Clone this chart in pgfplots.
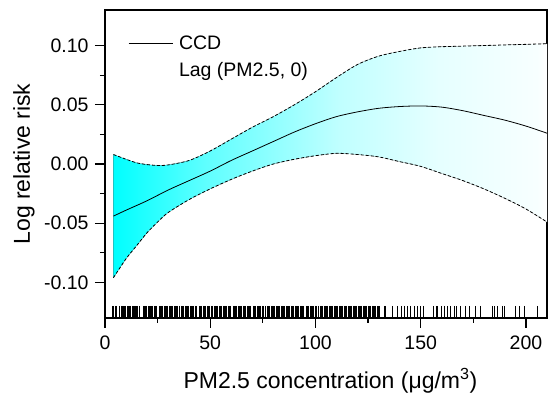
\documentclass[border=0pt]{standalone}
\usepackage{pgfplots}
\pgfplotsset{compat=1.18}
\usepgfplotslibrary{fillbetween}
\usepackage{fontspec}
\setmainfont{Liberation Sans}
\colorlet{cA}{cyan}
\colorlet{cB}{cyan!85!white}
\colorlet{cC}{cyan!63!white}
\colorlet{cD}{cyan!44!white}
\colorlet{cE}{cyan!25!white}
\colorlet{cF}{cyan!10!white}
\colorlet{cG}{cyan!3!white}
\pgfdeclarehorizontalshading{bandshade}{100bp}{color(0bp)=(cA); color(25bp)=(cA); color(29.25bp)=(cB); color(35.6bp)=(cC); color(43.3bp)=(cD); color(50.9bp)=(cE); color(62.4bp)=(cF); color(73.9bp)=(cG); color(75bp)=(white); color(100bp)=(white)}
\begin{document}
\begin{tikzpicture}
\begin{axis}[
  scale only axis, width=442pt, height=308pt,
  xmin=0, xmax=210, ymin=-0.13, ymax=0.13,
  xtick={0,50,100,150,200},
  ytick={-0.10,-0.05,0,0.05,0.10},
  yticklabels={-0.10,-0.05,0.00,0.05,0.10},
  minor x tick num=1, minor y tick num=1,
  tick pos=left, tick align=outside,
  major tick length=10pt, minor tick length=5pt,
  every tick/.style={black, line width=1.2pt},
  axis line style={line width=1.2pt},
  /pgf/number format/assume math mode=true,
  tick label style={font=\fontsize{19.5}{23}\selectfont},
  xticklabel style={yshift=-4pt},
  yticklabel style={xshift=-3pt},
  label style={font=\fontsize{23}{27}\selectfont},
  xlabel={PM2.5 concentration (μg/m\textsuperscript{3})},
  ylabel={Log relative risk},
  xlabel style={at={(axis description cs:0.51,-0.162)}, anchor=north, inner sep=0pt},
  ylabel style={at={(axis description cs:-0.208,0.5)}, anchor=north, inner sep=0pt},
  legend style={draw=none, fill=none, at={(axis description cs:0,1)}, anchor=north west, xshift=20pt, yshift=-22pt, font=\fontsize{19.5}{23}\selectfont, row sep=7pt, nodes={inner sep=2pt, anchor=west}, /tikz/every odd column/.append style={column sep=4pt}},
  legend cell align=left,
  legend image code/.code={\draw[#1] (0pt,0pt) -- (44pt,0pt);},
]
\addplot[name path=upper, black, line width=0.8pt, dash pattern=on 3pt off 2pt, smooth, forget plot] coordinates {
(4,0.008) (10,0.004) (15,0.001) (20,-0.0005) (25,-0.0012) (30,-0.0008) (40,0.003) (50,0.011) (60,0.021) (70,0.031) (80,0.040) (90,0.050) (100,0.061) (110,0.073) (120,0.084) (130,0.091) (140,0.095) (150,0.098) (160,0.099) (170,0.0995) (180,0.100) (190,0.1005) (200,0.101) (210,0.1015)};
\addplot[name path=lower, black, line width=0.8pt, dash pattern=on 3pt off 2pt, smooth, forget plot] coordinates {
(4,-0.096) (10,-0.080) (15,-0.069) (20,-0.058) (25,-0.049) (30,-0.041) (40,-0.030) (50,-0.021) (60,-0.013) (70,-0.006) (80,0.000) (90,0.004) (100,0.007) (110,0.009) (120,0.008) (130,0.006) (140,0.002) (150,-0.002) (160,-0.008) (170,-0.014) (180,-0.021) (190,-0.029) (200,-0.038) (210,-0.049)};
\addplot[shade, shading=bandshade, draw=none, forget plot] fill between[of=upper and lower];
\addplot[black, line width=0.8pt, smooth] coordinates {
(4,-0.044) (10,-0.039) (20,-0.031) (30,-0.022) (40,-0.014) (50,-0.006) (60,0.003) (70,0.011) (80,0.019) (90,0.027) (100,0.034) (110,0.040) (120,0.044) (130,0.047) (140,0.0485) (150,0.049) (160,0.048) (170,0.045) (180,0.041) (190,0.037) (200,0.032) (210,0.026)};
\addlegendentry{CCD}
\addlegendimage{empty legend}
\addlegendentry{Lag (PM2.5, 0)}
\addplot[only marks, mark=|, mark size=5.5pt, mark options={line width=0.7pt, black}, forget plot] table[x index=0, y expr=-0.1245, header=false] {
3.6
4.1
4.9
5.4
7.0
7.6
8.2
8.7
9.3
9.9
10.5
11.1
11.6
12.2
12.8
13.4
14.0
14.5
15.1
15.6
16.2
18.0
18.6
19.2
19.8
20.4
21.0
21.5
22.1
22.7
23.3
23.9
24.4
25.6
26.2
26.8
27.4
28.0
28.6
29.2
29.8
30.4
31.0
31.6
32.2
32.8
33.4
34.0
34.6
35.1
36.2
36.8
37.4
38.0
38.6
39.2
39.8
40.4
41.0
41.6
42.2
42.8
43.4
44.8
45.4
46.0
46.6
47.2
47.8
48.4
49.0
49.6
50.6
51.2
51.8
52.4
53.0
53.6
54.2
54.8
55.4
56.0
56.6
57.2
57.8
58.4
59.0
59.6
60.8
61.4
62.0
62.6
63.2
63.8
64.4
65.0
65.6
66.2
66.8
67.4
68.0
68.6
69.2
70.4
71.0
71.6
72.2
72.8
73.4
74.0
74.6
75.2
76.4
77.0
77.6
78.2
78.8
79.4
80.0
80.6
81.2
81.8
82.4
83.0
83.6
84.2
84.8
85.4
86.0
86.6
87.2
87.8
88.4
89.0
89.6
90.2
90.8
91.4
92.0
92.6
93.2
93.8
94.4
95.6
96.2
96.8
97.4
98.0
98.6
99.2
99.8
100.4
101.6
102.2
102.8
103.4
104.0
104.6
105.2
105.8
106.4
107.0
107.6
108.2
108.8
109.4
110.0
110.6
111.2
111.8
112.4
113.0
113.6
114.2
114.8
115.4
116.0
116.6
117.2
117.8
118.4
119.0
119.6
120.2
120.8
121.4
122.0
122.6
123.2
123.8
124.4
125.0
125.6
126.2
126.8
127.4
128.0
128.6
129.2
129.8
130.4
132.7
133.2
136.7
139.0
141.0
142.2
143.8
145.3
146.9
148.5
150.0
151.2
156.0
157.2
158.0
159.6
161.1
162.7
164.3
165.9
167.1
169.0
171.4
173.0
176.1
178.5
184.0
185.2
186.4
188.8
189.9
195.1
196.7
199.1
205.4
};
\end{axis}
\path ([shift={(-105pt,-79pt)}]current axis.south west) rectangle ([shift={(1pt,10pt)}]current axis.north east);
\end{tikzpicture}
\end{document}
